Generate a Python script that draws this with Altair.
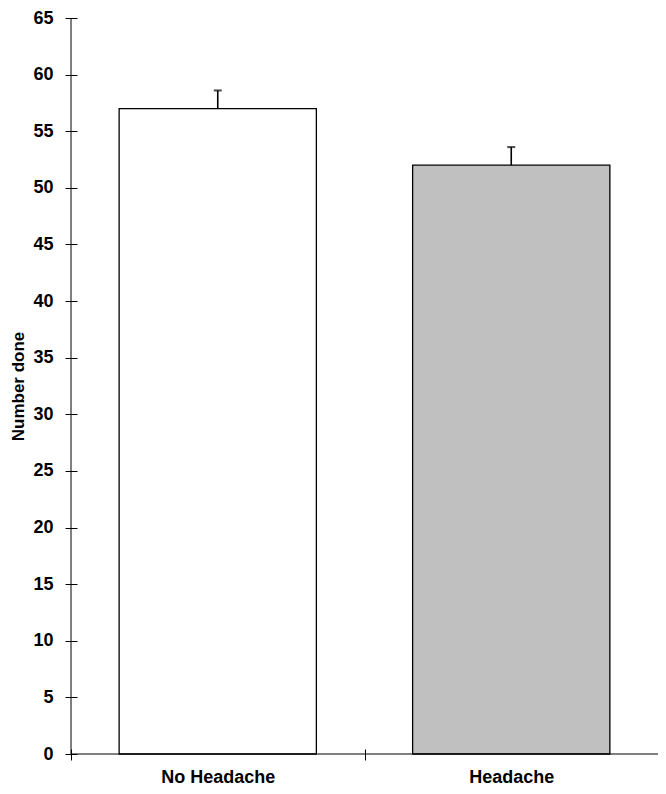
import altair as alt
import pandas as pd

groups = ["No Headache", "Headache"]
means = [57.0, 52.0]
errors = [1.6, 1.6]
fills = ["#ffffff", "#c0c0c0"]
y_ticks = list(range(0, 70, 5))

df = pd.DataFrame({"group": groups, "mean": means, "err": errors, "fill": fills})
df["upper"] = df["mean"] + df["err"]

FONT = "Liberation Sans"

x_scale = alt.Scale(domain=groups, paddingInner=0, paddingOuter=0)
y_scale = alt.Scale(domain=[0, 65], nice=False, zero=True)

x_axis = alt.Axis(
    title=None, tickBand="extent", offset=-5, tickSize=11, domain=False,
    labelPadding=8, labelFontSize=18, labelFont=FONT, labelFontWeight="bold",
    labelColor="black", tickColor="black", labelAngle=0,
)
y_axis = alt.Axis(
    title="Number done", values=y_ticks, offset=-6, tickSize=12, domain=False,
    labelPadding=12, labelFontSize=18, labelFont=FONT, labelFontWeight="bold",
    labelColor="black", tickColor="black", grid=False,
    titleFont=FONT, titleFontSize=17, titleFontWeight="bold", titleColor="black",
    titleX=-59, titleBaseline="middle", titleAngle=270,
)

base = alt.Chart(df)

bars = base.mark_bar(width=alt.RelativeBandSize(0.672), stroke="#000000", strokeWidth=1.3).encode(
    x=alt.X("group:N", scale=x_scale, axis=x_axis, sort=groups),
    y=alt.Y("mean:Q", scale=y_scale, axis=y_axis),
    fill=alt.Fill("fill:N", scale=None),
)

stems = base.mark_rule(color="black", strokeWidth=1.6).encode(
    x=alt.X("group:N", scale=x_scale, sort=groups),
    y=alt.Y("mean:Q", scale=y_scale),
    y2="upper:Q",
)

caps = base.mark_tick(color="black", orient="horizontal", size=8, thickness=2).encode(
    x=alt.X("group:N", scale=x_scale, sort=groups),
    y=alt.Y("upper:Q", scale=y_scale),
)

x_line = alt.Chart(pd.DataFrame({"v": [0]})).mark_rule(color="black", strokeWidth=1).encode(
    y=alt.Y("v:Q", scale=y_scale),
)
y_line = alt.Chart(pd.DataFrame({"v": [0]})).mark_rule(color="black", strokeWidth=1).encode(
    x=alt.value(0),
)

chart = alt.layer(bars, stems, caps, x_line, y_line).properties(
    width=587, height=736,
    autosize=alt.AutoSizeParams(type="none"),
    padding={"left": 63, "top": 10, "right": 0, "bottom": 32},
    background="white",
).configure_view(stroke=None)

chart.save("out.html", embed_options={"renderer": "svg", "actions": False})
